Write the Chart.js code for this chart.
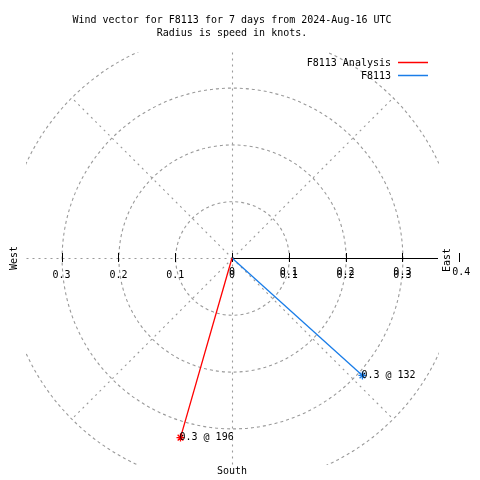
<!DOCTYPE html>
<html><head><meta charset="utf-8">
<script src="https://cdn.jsdelivr.net/npm/chart.js@4"></script>
<style>html,body{margin:0;padding:0;background:#fff}canvas{display:block}</style>
</head><body>
<canvas id="c" width="480" height="480"></canvas>
<script>
const titleLines = ['Wind vector for F8113 for 7 days from 2024-Aug-16 UTC', 'Radius is speed in knots.'];
const seriesNames = ['F8113 Analysis', 'F8113'];
const seriesColors = ['#ff0000', '#1a7de8'];
const speeds = [0.329, 0.309];
const directions = [196, 132];
const speedLabels = ['0.3 @ 196', '0.3 @ 132'];
const ringValues = [0.1, 0.2, 0.3, 0.4];
const tickValues = [0.1, 0.2, 0.3];
const tickLabels = ['0.1', '0.2', '0.3'];
const outerTick = 0.4;
const outerTickLabel = '0.4';
const spokeAngles = [0, 45, 135, 180, 225, 270, 315];
const boxRadius = 0.3627;

const FONT = '10px "DejaVu Sans Mono", "Liberation Mono", monospace';
const toXY = (s, d) => ({x: s * Math.sin(d * Math.PI / 180), y: s * Math.cos(d * Math.PI / 180)});

function txt(ctx, s, x, y, rot) {
  ctx.save();
  ctx.translate(x, y);
  if (rot) ctx.rotate(rot);
  ctx.scale(1, 1.1);
  ctx.fillText(s, 0, 0);
  ctx.restore();
}

const polarPlugin = {
  id: 'polar',
  beforeDatasetsDraw(chart) {
    const ctx = chart.ctx, xs = chart.scales.x, ys = chart.scales.y, a = chart.chartArea;
    const cx = xs.getPixelForValue(0), cy = ys.getPixelForValue(0);
    const unit = xs.getPixelForValue(1) - cx;
    ctx.save();
    ctx.beginPath();
    ctx.rect(a.left, a.top, a.right - a.left + 1, a.bottom - a.top + 1);
    ctx.clip();
    ctx.strokeStyle = '#9a9a9a';
    ctx.lineWidth = 1.1;
    ctx.setLineDash([3, 3]);
    ringValues.forEach(r => {
      ctx.beginPath();
      ctx.arc(cx + 0.5, cy + 0.5, r * unit, 0, Math.PI * 2);
      ctx.stroke();
    });
    ctx.lineWidth = 1.1;
    ctx.setLineDash([2, 4]);
    const R = ringValues[ringValues.length - 1];
    spokeAngles.forEach(d => {
      const p = toXY(R, d);
      ctx.beginPath();
      ctx.moveTo(cx + 0.5, cy + 0.5);
      ctx.lineTo(xs.getPixelForValue(p.x) + 0.5, ys.getPixelForValue(p.y) + 0.5);
      ctx.stroke();
    });
    ctx.restore();
    // east axis
    ctx.save();
    ctx.strokeStyle = '#000';
    ctx.lineWidth = 1;
    ctx.beginPath();
    ctx.moveTo(cx, cy + 0.5);
    ctx.lineTo(a.right, cy + 0.5);
    ctx.stroke();
    const ticksAll = [0].concat(tickValues, tickValues.map(v => -v), [outerTick]);
    ticksAll.forEach(v => {
      const px = Math.round(xs.getPixelForValue(v)) + 0.5;
      ctx.beginPath();
      ctx.moveTo(px, cy - 5);
      ctx.lineTo(px, cy + 4);
      ctx.stroke();
    });
    ctx.restore();
  },
  afterDatasetsDraw(chart) {
    const ctx = chart.ctx, xs = chart.scales.x, ys = chart.scales.y;
    const cx = xs.getPixelForValue(0), cy = ys.getPixelForValue(0);
    ctx.save();
    ctx.font = FONT;
    ctx.fillStyle = '#000';
    ctx.textBaseline = 'middle';
    ctx.textAlign = 'center';
    // title
    txt(ctx, titleLines[0], 232, 20);
    txt(ctx, titleLines[1], 232, 33);
    // tick labels
    txt(ctx, '0', cx, cy + 17);
    txt(ctx, '0', cx, cy + 14);
    tickValues.forEach((v, i) => {
      txt(ctx, tickLabels[i], xs.getPixelForValue(-v), cy + 17);
      txt(ctx, tickLabels[i], xs.getPixelForValue(v), cy + 17);
      txt(ctx, tickLabels[i], xs.getPixelForValue(v), cy + 14);
    });
    txt(ctx, outerTickLabel, xs.getPixelForValue(outerTick) + 2, cy + 14);
    // compass
    txt(ctx, 'South', cx, 471);
    txt(ctx, 'East', 447, 260, -Math.PI / 2);
    txt(ctx, 'West', 14, 258, -Math.PI / 2);
    // legend
    ctx.textAlign = 'right';
    seriesNames.forEach((n, i) => {
      const y = 62 + i * 13;
      txt(ctx, n, 391, y + 1);
      ctx.strokeStyle = seriesColors[i];
      ctx.lineWidth = 1.5;
      ctx.beginPath();
      ctx.moveTo(398, y + 0.5);
      ctx.lineTo(428, y + 0.5);
      ctx.stroke();
    });
    // point labels
    ctx.textAlign = 'left';
    chart.data.datasets.forEach((ds, i) => {
      const el = chart.getDatasetMeta(i).data[1];
      txt(ctx, speedLabels[i], el.x - 1, el.y);
    });
    ctx.restore();
  }
};

new Chart(document.getElementById('c'), {
  type: 'scatter',
  data: {
    datasets: seriesNames.map((n, i) => ({
      label: n,
      data: [{x: 0, y: 0}, toXY(speeds[i], directions[i])],
      showLine: true,
      borderColor: seriesColors[i],
      backgroundColor: seriesColors[i],
      borderWidth: 1.3,
      pointStyle: 'star',
      pointRadius: [0, 4],
      pointBorderWidth: 1.3,
      pointBorderColor: seriesColors[i]
    }))
  },
  options: {
    responsive: false,
    animation: false,
    devicePixelRatio: 1,
    events: [],
    layout: {padding: {left: 26, right: 42, top: 52, bottom: 16}},
    scales: {
      x: {type: 'linear', min: -boxRadius, max: boxRadius, display: false},
      y: {type: 'linear', min: -boxRadius, max: boxRadius, display: false}
    },
    plugins: {legend: {display: false}, title: {display: false}, tooltip: {enabled: false}}
  },
  plugins: [polarPlugin]
});
</script>
</body></html>
